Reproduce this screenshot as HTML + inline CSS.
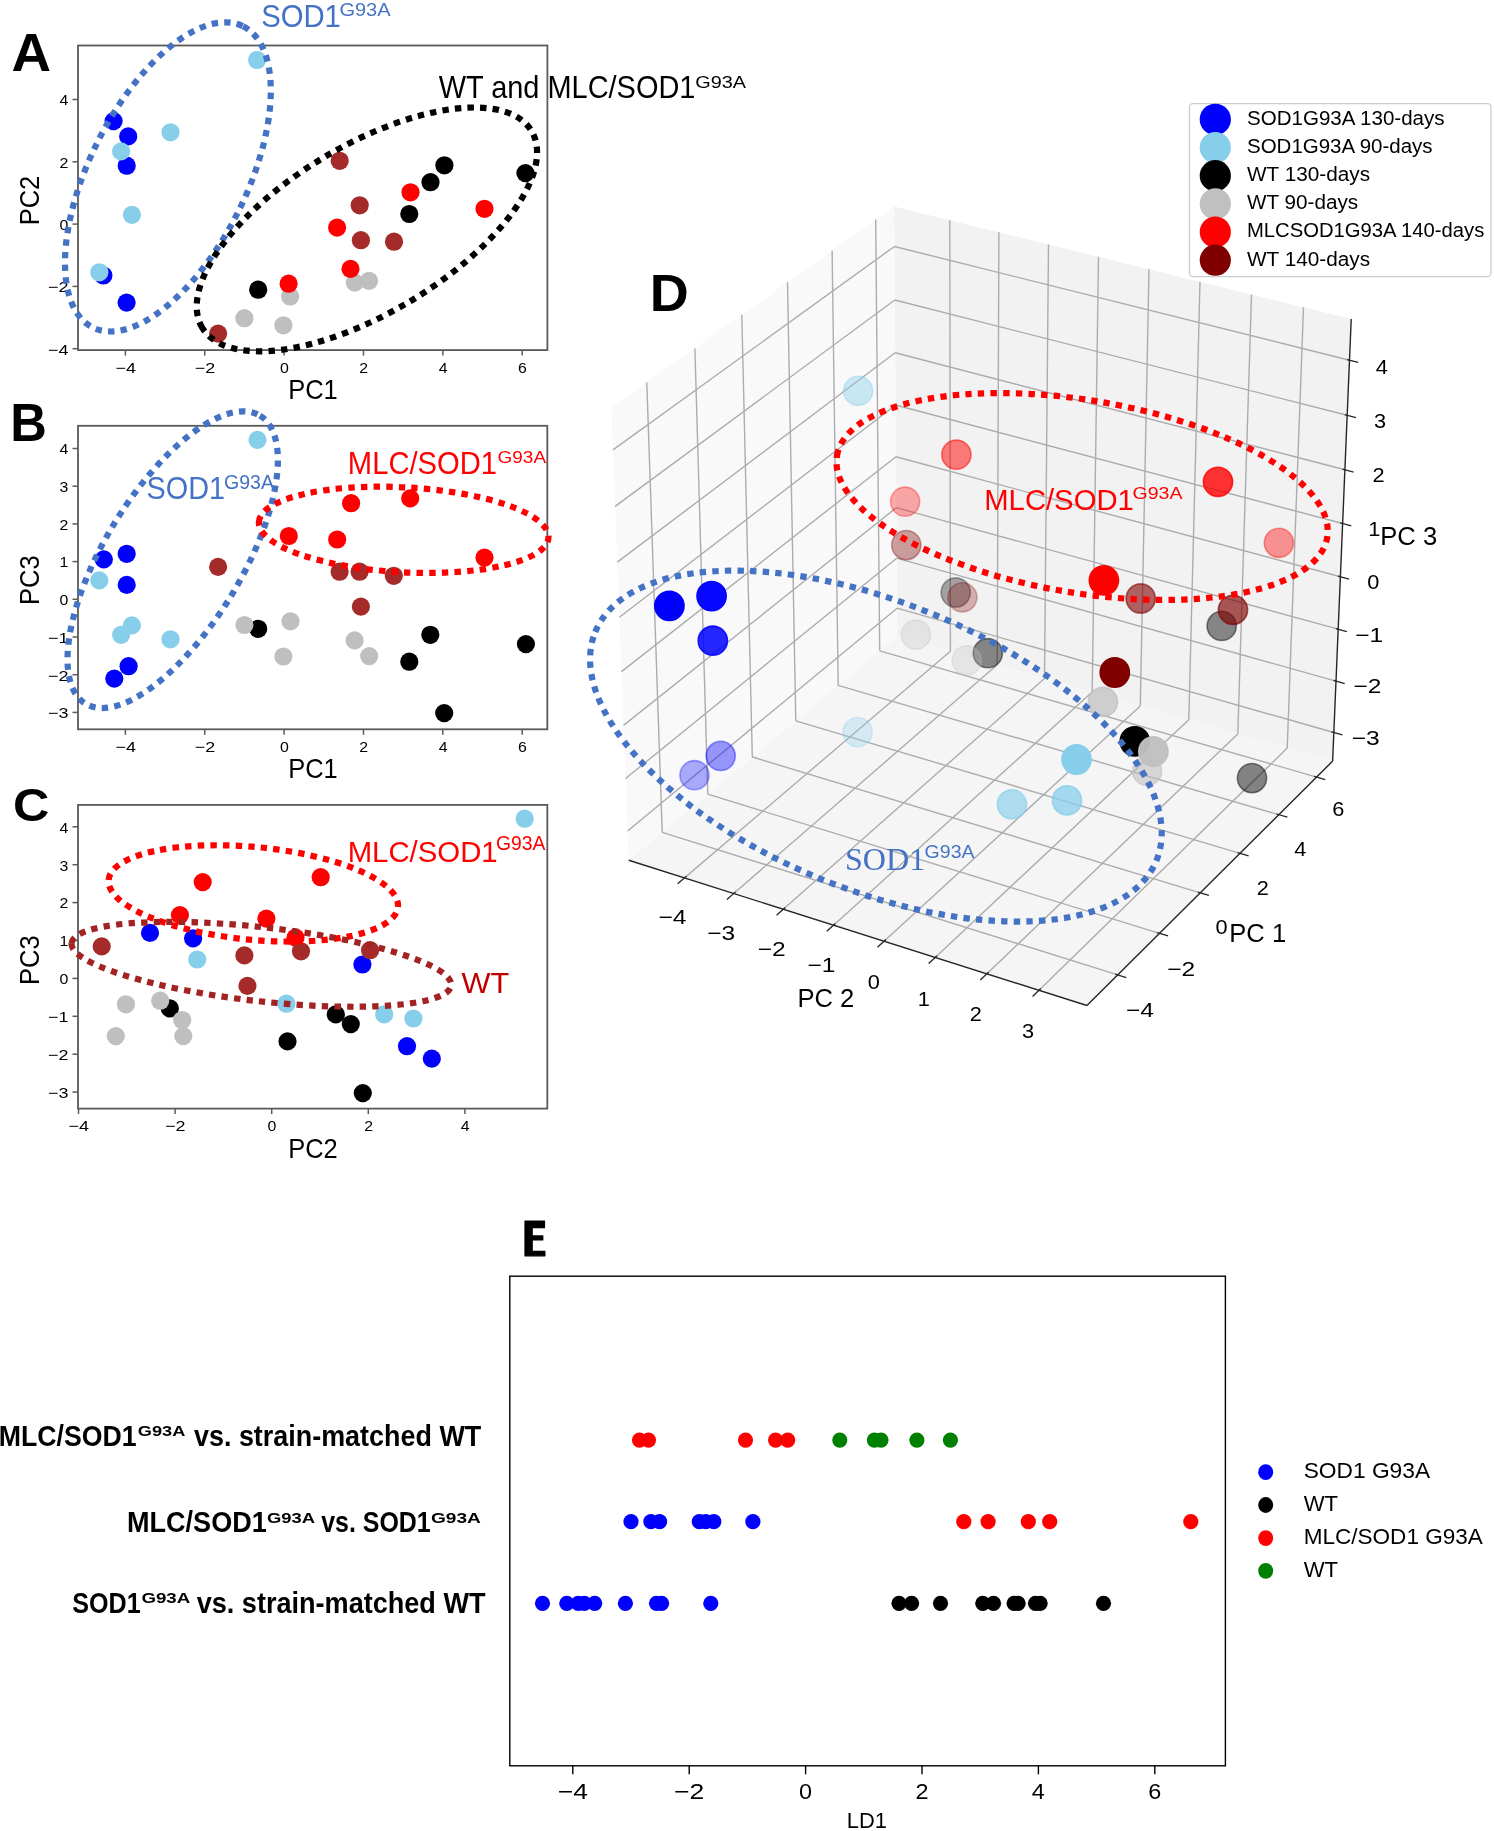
<!DOCTYPE html>
<html><head><meta charset="utf-8"><title>PCA figure</title>
<style>html,body{margin:0;padding:0;background:#fff;overflow:hidden}svg{display:block;will-change:transform;filter:blur(0.3px)}</style></head>
<body><svg width="1494" height="1831" viewBox="0 0 1494 1831">
<rect width="1494" height="1831" fill="#fff"/>
<line x1="125.38" y1="350.10" x2="125.38" y2="355.60" stroke="#5a5a5a" stroke-width="1.5" />
<text x="125.68" y="372.50" font-family="Liberation Sans, sans-serif" font-size="14.73" fill="#000" text-anchor="middle" textLength="20.49" lengthAdjust="spacingAndGlyphs" >−4</text>
<line x1="204.74" y1="350.10" x2="204.74" y2="355.60" stroke="#5a5a5a" stroke-width="1.5" />
<text x="205.04" y="372.50" font-family="Liberation Sans, sans-serif" font-size="14.73" fill="#000" text-anchor="middle" textLength="20.49" lengthAdjust="spacingAndGlyphs" >−2</text>
<line x1="284.10" y1="350.10" x2="284.10" y2="355.60" stroke="#5a5a5a" stroke-width="1.5" />
<text x="284.40" y="372.50" font-family="Liberation Sans, sans-serif" font-size="14.73" fill="#000" text-anchor="middle" textLength="8.84" lengthAdjust="spacingAndGlyphs" >0</text>
<line x1="363.46" y1="350.10" x2="363.46" y2="355.60" stroke="#5a5a5a" stroke-width="1.5" />
<text x="363.76" y="372.50" font-family="Liberation Sans, sans-serif" font-size="14.73" fill="#000" text-anchor="middle" textLength="8.84" lengthAdjust="spacingAndGlyphs" >2</text>
<line x1="442.82" y1="350.10" x2="442.82" y2="355.60" stroke="#5a5a5a" stroke-width="1.5" />
<text x="443.12" y="372.50" font-family="Liberation Sans, sans-serif" font-size="14.73" fill="#000" text-anchor="middle" textLength="8.84" lengthAdjust="spacingAndGlyphs" >4</text>
<line x1="522.18" y1="350.10" x2="522.18" y2="355.60" stroke="#5a5a5a" stroke-width="1.5" />
<text x="522.48" y="372.50" font-family="Liberation Sans, sans-serif" font-size="14.73" fill="#000" text-anchor="middle" textLength="8.84" lengthAdjust="spacingAndGlyphs" >6</text>
<line x1="72.50" y1="348.70" x2="78.00" y2="348.70" stroke="#5a5a5a" stroke-width="1.5" />
<text x="68.40" y="354.50" font-family="Liberation Sans, sans-serif" font-size="14.73" fill="#000" text-anchor="end" textLength="20.49" lengthAdjust="spacingAndGlyphs" >−4</text>
<line x1="72.50" y1="286.40" x2="78.00" y2="286.40" stroke="#5a5a5a" stroke-width="1.5" />
<text x="68.40" y="292.20" font-family="Liberation Sans, sans-serif" font-size="14.73" fill="#000" text-anchor="end" textLength="20.49" lengthAdjust="spacingAndGlyphs" >−2</text>
<line x1="72.50" y1="224.10" x2="78.00" y2="224.10" stroke="#5a5a5a" stroke-width="1.5" />
<text x="68.40" y="229.90" font-family="Liberation Sans, sans-serif" font-size="14.73" fill="#000" text-anchor="end" textLength="8.84" lengthAdjust="spacingAndGlyphs" >0</text>
<line x1="72.50" y1="161.80" x2="78.00" y2="161.80" stroke="#5a5a5a" stroke-width="1.5" />
<text x="68.40" y="167.60" font-family="Liberation Sans, sans-serif" font-size="14.73" fill="#000" text-anchor="end" textLength="8.84" lengthAdjust="spacingAndGlyphs" >2</text>
<line x1="72.50" y1="99.50" x2="78.00" y2="99.50" stroke="#5a5a5a" stroke-width="1.5" />
<text x="68.40" y="105.30" font-family="Liberation Sans, sans-serif" font-size="14.73" fill="#000" text-anchor="end" textLength="8.84" lengthAdjust="spacingAndGlyphs" >4</text>
<rect x="78" y="45.5" width="469.4" height="304.6" fill="none" stroke="#5a5a5a" stroke-width="1.8"/>
<text x="313.00" y="399.30" font-family="Liberation Sans, sans-serif" font-size="27.13" fill="#000" text-anchor="middle" textLength="49.60" lengthAdjust="spacingAndGlyphs" >PC1</text>
<text x="0.00" y="0.00" font-family="Liberation Sans, sans-serif" font-size="27.13" fill="#000" text-anchor="middle" textLength="49.60" lengthAdjust="spacingAndGlyphs" transform="translate(39.4 200.5) rotate(-90)">PC2</text>
<circle cx="113.6" cy="121.1" r="9.10" fill="#0000FF"/>
<circle cx="128.2" cy="136.4" r="9.10" fill="#0000FF"/>
<circle cx="126.7" cy="165.7" r="9.10" fill="#0000FF"/>
<circle cx="103.4" cy="275.5" r="9.10" fill="#0000FF"/>
<circle cx="126.6" cy="302.6" r="9.10" fill="#0000FF"/>
<circle cx="257.1" cy="60.0" r="9.10" fill="#87CEEB"/>
<circle cx="170.5" cy="132.3" r="9.10" fill="#87CEEB"/>
<circle cx="121.1" cy="151.4" r="9.10" fill="#87CEEB"/>
<circle cx="131.9" cy="214.8" r="9.10" fill="#87CEEB"/>
<circle cx="99.3" cy="272.3" r="9.10" fill="#87CEEB"/>
<circle cx="444.4" cy="165.3" r="9.10" fill="#000000"/>
<circle cx="525.4" cy="173.1" r="9.10" fill="#000000"/>
<circle cx="430.5" cy="182.2" r="9.10" fill="#000000"/>
<circle cx="409.3" cy="214.0" r="9.10" fill="#000000"/>
<circle cx="258.2" cy="289.7" r="9.10" fill="#000000"/>
<circle cx="354.8" cy="282.6" r="9.10" fill="#BFBFBF"/>
<circle cx="369.1" cy="280.9" r="9.10" fill="#BFBFBF"/>
<circle cx="290.1" cy="296.5" r="9.10" fill="#BFBFBF"/>
<circle cx="244.4" cy="318.2" r="9.10" fill="#BFBFBF"/>
<circle cx="283.4" cy="325.3" r="9.10" fill="#BFBFBF"/>
<circle cx="410.5" cy="192.3" r="9.10" fill="#FF0000"/>
<circle cx="484.5" cy="208.8" r="9.10" fill="#FF0000"/>
<circle cx="337.1" cy="227.6" r="9.10" fill="#FF0000"/>
<circle cx="350.5" cy="268.9" r="9.10" fill="#FF0000"/>
<circle cx="288.6" cy="283.7" r="9.10" fill="#FF0000"/>
<circle cx="339.7" cy="160.8" r="9.10" fill="#A52A2A"/>
<circle cx="359.7" cy="205.3" r="9.10" fill="#A52A2A"/>
<circle cx="360.9" cy="240.2" r="9.10" fill="#A52A2A"/>
<circle cx="394.0" cy="241.7" r="9.10" fill="#A52A2A"/>
<circle cx="218.1" cy="333.6" r="9.10" fill="#A52A2A"/>
<line x1="125.38" y1="729.30" x2="125.38" y2="734.80" stroke="#5a5a5a" stroke-width="1.5" />
<text x="125.68" y="751.70" font-family="Liberation Sans, sans-serif" font-size="14.73" fill="#000" text-anchor="middle" textLength="20.49" lengthAdjust="spacingAndGlyphs" >−4</text>
<line x1="204.74" y1="729.30" x2="204.74" y2="734.80" stroke="#5a5a5a" stroke-width="1.5" />
<text x="205.04" y="751.70" font-family="Liberation Sans, sans-serif" font-size="14.73" fill="#000" text-anchor="middle" textLength="20.49" lengthAdjust="spacingAndGlyphs" >−2</text>
<line x1="284.10" y1="729.30" x2="284.10" y2="734.80" stroke="#5a5a5a" stroke-width="1.5" />
<text x="284.40" y="751.70" font-family="Liberation Sans, sans-serif" font-size="14.73" fill="#000" text-anchor="middle" textLength="8.84" lengthAdjust="spacingAndGlyphs" >0</text>
<line x1="363.46" y1="729.30" x2="363.46" y2="734.80" stroke="#5a5a5a" stroke-width="1.5" />
<text x="363.76" y="751.70" font-family="Liberation Sans, sans-serif" font-size="14.73" fill="#000" text-anchor="middle" textLength="8.84" lengthAdjust="spacingAndGlyphs" >2</text>
<line x1="442.82" y1="729.30" x2="442.82" y2="734.80" stroke="#5a5a5a" stroke-width="1.5" />
<text x="443.12" y="751.70" font-family="Liberation Sans, sans-serif" font-size="14.73" fill="#000" text-anchor="middle" textLength="8.84" lengthAdjust="spacingAndGlyphs" >4</text>
<line x1="522.18" y1="729.30" x2="522.18" y2="734.80" stroke="#5a5a5a" stroke-width="1.5" />
<text x="522.48" y="751.70" font-family="Liberation Sans, sans-serif" font-size="14.73" fill="#000" text-anchor="middle" textLength="8.84" lengthAdjust="spacingAndGlyphs" >6</text>
<line x1="72.50" y1="712.40" x2="78.00" y2="712.40" stroke="#5a5a5a" stroke-width="1.5" />
<text x="68.40" y="718.20" font-family="Liberation Sans, sans-serif" font-size="14.73" fill="#000" text-anchor="end" textLength="20.49" lengthAdjust="spacingAndGlyphs" >−3</text>
<line x1="72.50" y1="674.70" x2="78.00" y2="674.70" stroke="#5a5a5a" stroke-width="1.5" />
<text x="68.40" y="680.50" font-family="Liberation Sans, sans-serif" font-size="14.73" fill="#000" text-anchor="end" textLength="20.49" lengthAdjust="spacingAndGlyphs" >−2</text>
<line x1="72.50" y1="637.00" x2="78.00" y2="637.00" stroke="#5a5a5a" stroke-width="1.5" />
<text x="68.40" y="642.80" font-family="Liberation Sans, sans-serif" font-size="14.73" fill="#000" text-anchor="end" textLength="20.49" lengthAdjust="spacingAndGlyphs" >−1</text>
<line x1="72.50" y1="599.30" x2="78.00" y2="599.30" stroke="#5a5a5a" stroke-width="1.5" />
<text x="68.40" y="605.10" font-family="Liberation Sans, sans-serif" font-size="14.73" fill="#000" text-anchor="end" textLength="8.84" lengthAdjust="spacingAndGlyphs" >0</text>
<line x1="72.50" y1="561.60" x2="78.00" y2="561.60" stroke="#5a5a5a" stroke-width="1.5" />
<text x="68.40" y="567.40" font-family="Liberation Sans, sans-serif" font-size="14.73" fill="#000" text-anchor="end" textLength="8.84" lengthAdjust="spacingAndGlyphs" >1</text>
<line x1="72.50" y1="523.90" x2="78.00" y2="523.90" stroke="#5a5a5a" stroke-width="1.5" />
<text x="68.40" y="529.70" font-family="Liberation Sans, sans-serif" font-size="14.73" fill="#000" text-anchor="end" textLength="8.84" lengthAdjust="spacingAndGlyphs" >2</text>
<line x1="72.50" y1="486.20" x2="78.00" y2="486.20" stroke="#5a5a5a" stroke-width="1.5" />
<text x="68.40" y="492.00" font-family="Liberation Sans, sans-serif" font-size="14.73" fill="#000" text-anchor="end" textLength="8.84" lengthAdjust="spacingAndGlyphs" >3</text>
<line x1="72.50" y1="448.50" x2="78.00" y2="448.50" stroke="#5a5a5a" stroke-width="1.5" />
<text x="68.40" y="454.30" font-family="Liberation Sans, sans-serif" font-size="14.73" fill="#000" text-anchor="end" textLength="8.84" lengthAdjust="spacingAndGlyphs" >4</text>
<rect x="78" y="425.8" width="469.29999999999995" height="303.49999999999994" fill="none" stroke="#5a5a5a" stroke-width="1.8"/>
<text x="312.95" y="778.00" font-family="Liberation Sans, sans-serif" font-size="27.13" fill="#000" text-anchor="middle" textLength="49.60" lengthAdjust="spacingAndGlyphs" >PC1</text>
<text x="0.00" y="0.00" font-family="Liberation Sans, sans-serif" font-size="27.13" fill="#000" text-anchor="middle" textLength="49.60" lengthAdjust="spacingAndGlyphs" transform="translate(39.4 580.2) rotate(-90)">PC3</text>
<circle cx="103.8" cy="559.4" r="9.10" fill="#0000FF"/>
<circle cx="126.7" cy="553.8" r="9.10" fill="#0000FF"/>
<circle cx="126.7" cy="584.9" r="9.10" fill="#0000FF"/>
<circle cx="128.6" cy="666.2" r="9.10" fill="#0000FF"/>
<circle cx="114.3" cy="678.6" r="9.10" fill="#0000FF"/>
<circle cx="257.5" cy="439.9" r="9.10" fill="#87CEEB"/>
<circle cx="99.3" cy="580.4" r="9.10" fill="#87CEEB"/>
<circle cx="131.9" cy="625.4" r="9.10" fill="#87CEEB"/>
<circle cx="121.1" cy="634.8" r="9.10" fill="#87CEEB"/>
<circle cx="170.5" cy="639.3" r="9.10" fill="#87CEEB"/>
<circle cx="258.2" cy="628.8" r="9.10" fill="#000000"/>
<circle cx="430.3" cy="634.8" r="9.10" fill="#000000"/>
<circle cx="409.3" cy="661.7" r="9.10" fill="#000000"/>
<circle cx="525.9" cy="644.1" r="9.10" fill="#000000"/>
<circle cx="444.2" cy="713.1" r="9.10" fill="#000000"/>
<circle cx="244.4" cy="625.0" r="9.10" fill="#BFBFBF"/>
<circle cx="290.5" cy="621.3" r="9.10" fill="#BFBFBF"/>
<circle cx="283.4" cy="656.5" r="9.10" fill="#BFBFBF"/>
<circle cx="354.6" cy="640.4" r="9.10" fill="#BFBFBF"/>
<circle cx="369.2" cy="656.1" r="9.10" fill="#BFBFBF"/>
<circle cx="288.8" cy="536.0" r="9.10" fill="#FF0000"/>
<circle cx="337.2" cy="539.5" r="9.10" fill="#FF0000"/>
<circle cx="351.1" cy="503.2" r="9.10" fill="#FF0000"/>
<circle cx="410.2" cy="498.4" r="9.10" fill="#FF0000"/>
<circle cx="484.5" cy="557.6" r="9.10" fill="#FF0000"/>
<circle cx="218.1" cy="566.9" r="9.10" fill="#A52A2A"/>
<circle cx="339.6" cy="571.7" r="9.10" fill="#A52A2A"/>
<circle cx="359.6" cy="571.7" r="9.10" fill="#A52A2A"/>
<circle cx="393.8" cy="575.8" r="9.10" fill="#A52A2A"/>
<circle cx="360.9" cy="606.6" r="9.10" fill="#A52A2A"/>
<line x1="78.50" y1="1108.60" x2="78.50" y2="1114.10" stroke="#5a5a5a" stroke-width="1.5" />
<text x="78.80" y="1131.00" font-family="Liberation Sans, sans-serif" font-size="14.73" fill="#000" text-anchor="middle" textLength="20.49" lengthAdjust="spacingAndGlyphs" >−4</text>
<line x1="175.10" y1="1108.60" x2="175.10" y2="1114.10" stroke="#5a5a5a" stroke-width="1.5" />
<text x="175.40" y="1131.00" font-family="Liberation Sans, sans-serif" font-size="14.73" fill="#000" text-anchor="middle" textLength="20.49" lengthAdjust="spacingAndGlyphs" >−2</text>
<line x1="271.70" y1="1108.60" x2="271.70" y2="1114.10" stroke="#5a5a5a" stroke-width="1.5" />
<text x="272.00" y="1131.00" font-family="Liberation Sans, sans-serif" font-size="14.73" fill="#000" text-anchor="middle" textLength="8.84" lengthAdjust="spacingAndGlyphs" >0</text>
<line x1="368.30" y1="1108.60" x2="368.30" y2="1114.10" stroke="#5a5a5a" stroke-width="1.5" />
<text x="368.60" y="1131.00" font-family="Liberation Sans, sans-serif" font-size="14.73" fill="#000" text-anchor="middle" textLength="8.84" lengthAdjust="spacingAndGlyphs" >2</text>
<line x1="464.90" y1="1108.60" x2="464.90" y2="1114.10" stroke="#5a5a5a" stroke-width="1.5" />
<text x="465.20" y="1131.00" font-family="Liberation Sans, sans-serif" font-size="14.73" fill="#000" text-anchor="middle" textLength="8.84" lengthAdjust="spacingAndGlyphs" >4</text>
<line x1="72.50" y1="1092.10" x2="78.00" y2="1092.10" stroke="#5a5a5a" stroke-width="1.5" />
<text x="68.40" y="1097.90" font-family="Liberation Sans, sans-serif" font-size="14.73" fill="#000" text-anchor="end" textLength="20.49" lengthAdjust="spacingAndGlyphs" >−3</text>
<line x1="72.50" y1="1054.20" x2="78.00" y2="1054.20" stroke="#5a5a5a" stroke-width="1.5" />
<text x="68.40" y="1060.00" font-family="Liberation Sans, sans-serif" font-size="14.73" fill="#000" text-anchor="end" textLength="20.49" lengthAdjust="spacingAndGlyphs" >−2</text>
<line x1="72.50" y1="1016.30" x2="78.00" y2="1016.30" stroke="#5a5a5a" stroke-width="1.5" />
<text x="68.40" y="1022.10" font-family="Liberation Sans, sans-serif" font-size="14.73" fill="#000" text-anchor="end" textLength="20.49" lengthAdjust="spacingAndGlyphs" >−1</text>
<line x1="72.50" y1="978.40" x2="78.00" y2="978.40" stroke="#5a5a5a" stroke-width="1.5" />
<text x="68.40" y="984.20" font-family="Liberation Sans, sans-serif" font-size="14.73" fill="#000" text-anchor="end" textLength="8.84" lengthAdjust="spacingAndGlyphs" >0</text>
<line x1="72.50" y1="940.50" x2="78.00" y2="940.50" stroke="#5a5a5a" stroke-width="1.5" />
<text x="68.40" y="946.30" font-family="Liberation Sans, sans-serif" font-size="14.73" fill="#000" text-anchor="end" textLength="8.84" lengthAdjust="spacingAndGlyphs" >1</text>
<line x1="72.50" y1="902.60" x2="78.00" y2="902.60" stroke="#5a5a5a" stroke-width="1.5" />
<text x="68.40" y="908.40" font-family="Liberation Sans, sans-serif" font-size="14.73" fill="#000" text-anchor="end" textLength="8.84" lengthAdjust="spacingAndGlyphs" >2</text>
<line x1="72.50" y1="864.70" x2="78.00" y2="864.70" stroke="#5a5a5a" stroke-width="1.5" />
<text x="68.40" y="870.50" font-family="Liberation Sans, sans-serif" font-size="14.73" fill="#000" text-anchor="end" textLength="8.84" lengthAdjust="spacingAndGlyphs" >3</text>
<line x1="72.50" y1="826.80" x2="78.00" y2="826.80" stroke="#5a5a5a" stroke-width="1.5" />
<text x="68.40" y="832.60" font-family="Liberation Sans, sans-serif" font-size="14.73" fill="#000" text-anchor="end" textLength="8.84" lengthAdjust="spacingAndGlyphs" >4</text>
<rect x="78" y="804.9" width="469.29999999999995" height="303.69999999999993" fill="none" stroke="#5a5a5a" stroke-width="1.8"/>
<text x="312.95" y="1158.00" font-family="Liberation Sans, sans-serif" font-size="27.13" fill="#000" text-anchor="middle" textLength="49.60" lengthAdjust="spacingAndGlyphs" >PC2</text>
<text x="0.00" y="0.00" font-family="Liberation Sans, sans-serif" font-size="27.13" fill="#000" text-anchor="middle" textLength="49.60" lengthAdjust="spacingAndGlyphs" transform="translate(39.4 960.2) rotate(-90)">PC3</text>
<circle cx="150.0" cy="932.9" r="9.10" fill="#0000FF"/>
<circle cx="193.1" cy="938.4" r="9.10" fill="#0000FF"/>
<circle cx="362.4" cy="964.5" r="9.10" fill="#0000FF"/>
<circle cx="407.0" cy="1046.2" r="9.10" fill="#0000FF"/>
<circle cx="431.8" cy="1058.6" r="9.10" fill="#0000FF"/>
<circle cx="524.7" cy="818.7" r="9.10" fill="#87CEEB"/>
<circle cx="197.2" cy="959.5" r="9.10" fill="#87CEEB"/>
<circle cx="286.4" cy="1003.7" r="9.10" fill="#87CEEB"/>
<circle cx="384.2" cy="1014.4" r="9.10" fill="#87CEEB"/>
<circle cx="413.4" cy="1018.5" r="9.10" fill="#87CEEB"/>
<circle cx="169.8" cy="1008.4" r="9.10" fill="#000000"/>
<circle cx="287.5" cy="1041.4" r="9.10" fill="#000000"/>
<circle cx="335.8" cy="1014.4" r="9.10" fill="#000000"/>
<circle cx="350.8" cy="1024.1" r="9.10" fill="#000000"/>
<circle cx="362.8" cy="1093.1" r="9.10" fill="#000000"/>
<circle cx="125.9" cy="1004.3" r="9.10" fill="#BFBFBF"/>
<circle cx="160.2" cy="1000.7" r="9.10" fill="#BFBFBF"/>
<circle cx="182.2" cy="1020.0" r="9.10" fill="#BFBFBF"/>
<circle cx="115.8" cy="1036.1" r="9.10" fill="#BFBFBF"/>
<circle cx="183.3" cy="1036.1" r="9.10" fill="#BFBFBF"/>
<circle cx="202.7" cy="882.1" r="9.10" fill="#FF0000"/>
<circle cx="320.7" cy="877.2" r="9.10" fill="#FF0000"/>
<circle cx="179.9" cy="915.1" r="9.10" fill="#FF0000"/>
<circle cx="266.4" cy="918.6" r="9.10" fill="#FF0000"/>
<circle cx="295.5" cy="937.6" r="9.10" fill="#FF0000"/>
<circle cx="101.7" cy="946.4" r="9.10" fill="#A52A2A"/>
<circle cx="244.4" cy="955.4" r="9.10" fill="#A52A2A"/>
<circle cx="301.0" cy="951.3" r="9.10" fill="#A52A2A"/>
<circle cx="370.1" cy="950.2" r="9.10" fill="#A52A2A"/>
<circle cx="247.4" cy="985.9" r="9.10" fill="#A52A2A"/>
<ellipse cx="167.9" cy="176.9" rx="168.3" ry="78.5" transform="rotate(-63.45 167.9 176.9)" fill="none" stroke="#4472C4" stroke-width="6.2" stroke-dasharray="6.4 6.2"/>
<ellipse cx="366.9" cy="229.4" rx="191.8" ry="83.9" transform="rotate(149.15 366.9 229.4)" fill="none" stroke="#000000" stroke-width="6.2" stroke-dasharray="6.4 6.2"/>
<ellipse cx="172.7" cy="559.7" rx="168.4" ry="68.7" transform="rotate(-58.80 172.7 559.7)" fill="none" stroke="#4472C4" stroke-width="6.2" stroke-dasharray="6.4 6.2"/>
<ellipse cx="403.7" cy="529.8" rx="145.0" ry="42.5" transform="rotate(-176.94 403.7 529.8)" fill="none" stroke="#FF0000" stroke-width="6.2" stroke-dasharray="6.4 6.2"/>
<ellipse cx="253.3" cy="893.4" rx="145.3" ry="46.4" transform="rotate(-174.63 253.3 893.4)" fill="none" stroke="#FF0000" stroke-width="6.2" stroke-dasharray="6.4 6.2"/>
<ellipse cx="261.4" cy="964.3" rx="191.0" ry="37.0" transform="rotate(-173.63 261.4 964.3)" fill="none" stroke="#A32222" stroke-width="6.2" stroke-dasharray="6.4 6.2"/>
<text x="11.63" y="70.80" font-family="Liberation Sans, sans-serif" font-size="53.92" font-weight="bold" fill="#000" textLength="39.56" lengthAdjust="spacingAndGlyphs" >A</text>
<text x="10.31" y="441.40" font-family="Liberation Sans, sans-serif" font-size="52.91" font-weight="bold" fill="#000" textLength="36.58" lengthAdjust="spacingAndGlyphs" >B</text>
<text x="12.98" y="820.60" font-family="Liberation Sans, sans-serif" font-size="47.07" font-weight="bold" fill="#000" textLength="36.39" lengthAdjust="spacingAndGlyphs" >C</text>
<text x="261.18" y="26.80" font-family="Liberation Sans, sans-serif" font-size="32.12" font-weight="normal" fill="#4472C4" textLength="79.73" lengthAdjust="spacingAndGlyphs" >SOD1</text>
<text x="339.40" y="15.90" font-family="Liberation Sans, sans-serif" font-size="17.73" font-weight="normal" fill="#4472C4" textLength="51.25" lengthAdjust="spacingAndGlyphs" >G93A</text>
<text x="438.66" y="98.00" font-family="Liberation Sans, sans-serif" font-size="31.10" font-weight="normal" fill="#000" textLength="256.74" lengthAdjust="spacingAndGlyphs" >WT and MLC/SOD1</text>
<text x="695.21" y="87.60" font-family="Liberation Sans, sans-serif" font-size="15.99" font-weight="normal" fill="#000" textLength="50.74" lengthAdjust="spacingAndGlyphs" >G93A</text>
<text x="146.50" y="499.00" font-family="Liberation Sans, sans-serif" font-size="31.40" font-weight="normal" fill="#4472C4" textLength="78.49" lengthAdjust="spacingAndGlyphs" >SOD1</text>
<text x="224.02" y="489.00" font-family="Liberation Sans, sans-serif" font-size="20.20" font-weight="normal" fill="#4472C4" textLength="49.92" lengthAdjust="spacingAndGlyphs" >G93A</text>
<text x="347.87" y="474.00" font-family="Liberation Sans, sans-serif" font-size="30.52" font-weight="normal" fill="#FF0000" textLength="149.12" lengthAdjust="spacingAndGlyphs" >MLC/SOD1</text>
<text x="497.55" y="463.00" font-family="Liberation Sans, sans-serif" font-size="16.72" font-weight="normal" fill="#FF0000" textLength="48.49" lengthAdjust="spacingAndGlyphs" >G93A</text>
<text x="347.65" y="861.60" font-family="Liberation Sans, sans-serif" font-size="29.07" font-weight="normal" fill="#FF0000" textLength="150.04" lengthAdjust="spacingAndGlyphs" >MLC/SOD1</text>
<text x="496.03" y="850.00" font-family="Liberation Sans, sans-serif" font-size="20.06" font-weight="normal" fill="#FF0000" textLength="49.51" lengthAdjust="spacingAndGlyphs" >G93A</text>
<text x="461.45" y="993.20" font-family="Liberation Sans, sans-serif" font-size="30.23" font-weight="normal" fill="#C00000" textLength="47.76" lengthAdjust="spacingAndGlyphs" >WT</text>
<polygon points="628.7,860.3 897.3,636.1 894.1,206.5 611.4,407.6" fill="#F9F9F9" />
<polygon points="897.3,636.1 1332.6,761.1 1351.2,319.0 894.1,206.5" fill="#F2F2F2" />
<polygon points="628.7,860.3 897.3,636.1 1332.6,761.1 1086.9,1005.5" fill="#F5F5F5" />
<path d="M662.2 832.3L646.8 382.4 M662.2 832.3L1117.7 974.9 M707.8 794.2L694.9 348.2 M707.8 794.2L1159.5 933.3 M752.3 757.0L741.8 314.8 M752.3 757.0L1200.2 892.8 M795.8 720.8L787.5 282.3 M795.8 720.8L1240.0 853.3 M838.2 685.4L832.1 250.6 M838.2 685.4L1278.8 814.7 M879.7 650.8L875.7 219.6 M879.7 650.8L1316.6 777.1 M950.4 651.3L949.8 220.2 M684.5 877.9L950.4 651.3 M997.2 664.8L998.9 232.3 M733.7 893.5L997.2 664.8 M1044.5 678.4L1048.5 244.5 M783.3 909.3L1044.5 678.4 M1092.2 692.0L1098.5 256.8 M833.5 925.2L1092.2 692.0 M1140.3 705.9L1149.0 269.2 M884.1 941.2L1140.3 705.9 M1188.8 719.8L1200.0 281.8 M935.2 957.4L1188.8 719.8 M1237.8 733.9L1251.5 294.4 M986.9 973.8L1237.8 733.9 M1287.2 748.1L1303.5 307.2 M1039.0 990.3L1287.2 748.1 M627.6 831.0L897.1 608.2 M897.1 608.2L1333.8 732.5 M625.6 778.5L896.7 558.2 M896.7 558.2L1336.0 681.1 M623.5 725.4L896.3 507.7 M896.3 507.7L1338.2 629.2 M621.5 671.6L896.0 456.7 M896.0 456.7L1340.4 576.7 M619.4 617.2L895.6 405.0 M895.6 405.0L1342.6 523.5 M617.3 562.1L895.2 352.8 M895.2 352.8L1344.9 469.7 M615.1 506.4L894.8 300.0 M894.8 300.0L1347.2 415.3 M613.0 449.9L894.4 246.5 M894.4 246.5L1349.5 360.2" stroke="#acacac" stroke-width="1.4" fill="none"/>
<line x1="1086.93" y1="1005.49" x2="1332.64" y2="761.12" stroke="#262626" stroke-width="1.4" />
<line x1="628.71" y1="860.25" x2="1086.93" y2="1005.49" stroke="#262626" stroke-width="1.4" />
<line x1="1332.64" y1="761.12" x2="1351.23" y2="318.97" stroke="#262626" stroke-width="1.4" />
<line x1="1115.28" y1="974.17" x2="1126.25" y2="977.61" stroke="#262626" stroke-width="1.3" />
<line x1="1157.09" y1="932.60" x2="1168.08" y2="935.98" stroke="#262626" stroke-width="1.3" />
<line x1="1197.85" y1="892.07" x2="1208.85" y2="895.40" stroke="#262626" stroke-width="1.3" />
<line x1="1237.59" y1="852.55" x2="1248.61" y2="855.84" stroke="#262626" stroke-width="1.3" />
<line x1="1276.35" y1="814.00" x2="1287.39" y2="817.24" stroke="#262626" stroke-width="1.3" />
<line x1="1314.17" y1="776.39" x2="1325.22" y2="779.59" stroke="#262626" stroke-width="1.3" />
<line x1="686.40" y1="876.31" x2="677.64" y2="883.77" stroke="#262626" stroke-width="1.3" />
<line x1="735.56" y1="891.88" x2="726.88" y2="899.42" stroke="#262626" stroke-width="1.3" />
<line x1="785.20" y1="907.61" x2="776.59" y2="915.22" stroke="#262626" stroke-width="1.3" />
<line x1="835.33" y1="923.48" x2="826.78" y2="931.18" stroke="#262626" stroke-width="1.3" />
<line x1="885.94" y1="939.51" x2="877.47" y2="947.29" stroke="#262626" stroke-width="1.3" />
<line x1="937.05" y1="955.70" x2="928.66" y2="963.56" stroke="#262626" stroke-width="1.3" />
<line x1="988.67" y1="972.05" x2="980.36" y2="979.99" stroke="#262626" stroke-width="1.3" />
<line x1="1040.80" y1="988.56" x2="1032.57" y2="996.59" stroke="#262626" stroke-width="1.3" />
<line x1="1331.44" y1="731.77" x2="1342.50" y2="734.91" stroke="#262626" stroke-width="1.3" />
<line x1="1333.59" y1="680.46" x2="1344.67" y2="683.56" stroke="#262626" stroke-width="1.3" />
<line x1="1335.77" y1="628.55" x2="1346.86" y2="631.60" stroke="#262626" stroke-width="1.3" />
<line x1="1337.98" y1="576.03" x2="1349.08" y2="579.03" stroke="#262626" stroke-width="1.3" />
<line x1="1340.21" y1="522.89" x2="1351.33" y2="525.84" stroke="#262626" stroke-width="1.3" />
<line x1="1342.47" y1="469.12" x2="1353.60" y2="472.01" stroke="#262626" stroke-width="1.3" />
<line x1="1344.76" y1="414.70" x2="1355.90" y2="417.55" stroke="#262626" stroke-width="1.3" />
<line x1="1347.07" y1="359.63" x2="1358.23" y2="362.42" stroke="#262626" stroke-width="1.3" />
<text x="1140.00" y="1017.20" font-family="Liberation Sans, sans-serif" font-size="20.13" fill="#000" text-anchor="middle" textLength="28.01" lengthAdjust="spacingAndGlyphs" >−4</text>
<text x="1181.20" y="976.00" font-family="Liberation Sans, sans-serif" font-size="20.13" fill="#000" text-anchor="middle" textLength="28.01" lengthAdjust="spacingAndGlyphs" >−2</text>
<text x="1221.50" y="933.80" font-family="Liberation Sans, sans-serif" font-size="20.13" fill="#000" text-anchor="middle" textLength="12.09" lengthAdjust="spacingAndGlyphs" >0</text>
<text x="1262.70" y="895.40" font-family="Liberation Sans, sans-serif" font-size="20.13" fill="#000" text-anchor="middle" textLength="12.09" lengthAdjust="spacingAndGlyphs" >2</text>
<text x="1300.20" y="856.00" font-family="Liberation Sans, sans-serif" font-size="20.13" fill="#000" text-anchor="middle" textLength="12.09" lengthAdjust="spacingAndGlyphs" >4</text>
<text x="1338.20" y="816.10" font-family="Liberation Sans, sans-serif" font-size="20.13" fill="#000" text-anchor="middle" textLength="12.09" lengthAdjust="spacingAndGlyphs" >6</text>
<text x="672.50" y="923.80" font-family="Liberation Sans, sans-serif" font-size="20.13" fill="#000" text-anchor="middle" textLength="28.01" lengthAdjust="spacingAndGlyphs" >−4</text>
<text x="721.20" y="940.10" font-family="Liberation Sans, sans-serif" font-size="20.13" fill="#000" text-anchor="middle" textLength="28.01" lengthAdjust="spacingAndGlyphs" >−3</text>
<text x="771.80" y="955.70" font-family="Liberation Sans, sans-serif" font-size="20.13" fill="#000" text-anchor="middle" textLength="28.01" lengthAdjust="spacingAndGlyphs" >−2</text>
<text x="821.50" y="971.60" font-family="Liberation Sans, sans-serif" font-size="20.13" fill="#000" text-anchor="middle" textLength="28.01" lengthAdjust="spacingAndGlyphs" >−1</text>
<text x="873.90" y="988.50" font-family="Liberation Sans, sans-serif" font-size="20.13" fill="#000" text-anchor="middle" textLength="12.09" lengthAdjust="spacingAndGlyphs" >0</text>
<text x="923.70" y="1005.50" font-family="Liberation Sans, sans-serif" font-size="20.13" fill="#000" text-anchor="middle" textLength="12.09" lengthAdjust="spacingAndGlyphs" >1</text>
<text x="975.90" y="1021.10" font-family="Liberation Sans, sans-serif" font-size="20.13" fill="#000" text-anchor="middle" textLength="12.09" lengthAdjust="spacingAndGlyphs" >2</text>
<text x="1028.10" y="1037.80" font-family="Liberation Sans, sans-serif" font-size="20.13" fill="#000" text-anchor="middle" textLength="12.09" lengthAdjust="spacingAndGlyphs" >3</text>
<text x="1381.90" y="374.00" font-family="Liberation Sans, sans-serif" font-size="20.13" fill="#000" text-anchor="middle" textLength="12.09" lengthAdjust="spacingAndGlyphs" >4</text>
<text x="1380.10" y="427.90" font-family="Liberation Sans, sans-serif" font-size="20.13" fill="#000" text-anchor="middle" textLength="12.09" lengthAdjust="spacingAndGlyphs" >3</text>
<text x="1378.50" y="482.20" font-family="Liberation Sans, sans-serif" font-size="20.13" fill="#000" text-anchor="middle" textLength="12.09" lengthAdjust="spacingAndGlyphs" >2</text>
<text x="1374.30" y="536.10" font-family="Liberation Sans, sans-serif" font-size="20.13" fill="#000" text-anchor="middle" textLength="12.09" lengthAdjust="spacingAndGlyphs" >1</text>
<text x="1373.20" y="588.80" font-family="Liberation Sans, sans-serif" font-size="20.13" fill="#000" text-anchor="middle" textLength="12.09" lengthAdjust="spacingAndGlyphs" >0</text>
<text x="1369.30" y="641.60" font-family="Liberation Sans, sans-serif" font-size="20.13" fill="#000" text-anchor="middle" textLength="28.01" lengthAdjust="spacingAndGlyphs" >−1</text>
<text x="1367.40" y="693.10" font-family="Liberation Sans, sans-serif" font-size="20.13" fill="#000" text-anchor="middle" textLength="28.01" lengthAdjust="spacingAndGlyphs" >−2</text>
<text x="1365.80" y="744.70" font-family="Liberation Sans, sans-serif" font-size="20.13" fill="#000" text-anchor="middle" textLength="28.01" lengthAdjust="spacingAndGlyphs" >−3</text>
<text x="1229.30" y="941.80" font-family="Liberation Sans, sans-serif" font-size="26.70" fill="#000" text-anchor="start" textLength="56.84" lengthAdjust="spacingAndGlyphs" >PC 1</text>
<text x="797.40" y="1006.80" font-family="Liberation Sans, sans-serif" font-size="26.70" fill="#000" text-anchor="start" textLength="56.84" lengthAdjust="spacingAndGlyphs" >PC 2</text>
<text x="1380.30" y="544.70" font-family="Liberation Sans, sans-serif" font-size="26.70" fill="#000" text-anchor="start" textLength="56.84" lengthAdjust="spacingAndGlyphs" >PC 3</text>
<circle cx="694.5" cy="775.2" r="14.60" fill="#0000FF" fill-opacity="0.320" stroke="#0000FF" stroke-width="1.6" stroke-opacity="0.320"/>
<circle cx="720.7" cy="755.9" r="14.60" fill="#0000FF" fill-opacity="0.400" stroke="#0000FF" stroke-width="1.6" stroke-opacity="0.400"/>
<circle cx="712.8" cy="640.7" r="14.60" fill="#0000FF" fill-opacity="0.850" stroke="#0000FF" stroke-width="1.6" stroke-opacity="0.850"/>
<circle cx="711.6" cy="596.1" r="14.60" fill="#0000FF" fill-opacity="0.970" stroke="#0000FF" stroke-width="1.6" stroke-opacity="0.970"/>
<circle cx="669.4" cy="605.8" r="14.60" fill="#0000FF" stroke="#0000FF" stroke-width="1.6"/>
<circle cx="857.6" cy="732.1" r="14.60" fill="#87CEEB" fill-opacity="0.300" stroke="#87CEEB" stroke-width="1.6" stroke-opacity="0.300"/>
<circle cx="858.1" cy="390.8" r="14.60" fill="#87CEEB" fill-opacity="0.420" stroke="#87CEEB" stroke-width="1.6" stroke-opacity="0.420"/>
<circle cx="1011.9" cy="804.3" r="14.60" fill="#87CEEB" fill-opacity="0.650" stroke="#87CEEB" stroke-width="1.6" stroke-opacity="0.650"/>
<circle cx="1067.0" cy="800.4" r="14.60" fill="#87CEEB" fill-opacity="0.750" stroke="#87CEEB" stroke-width="1.6" stroke-opacity="0.750"/>
<circle cx="1076.5" cy="759.5" r="14.60" fill="#87CEEB" stroke="#87CEEB" stroke-width="1.6"/>
<circle cx="955.7" cy="592.5" r="14.60" fill="#000000" fill-opacity="0.330" stroke="#000000" stroke-width="1.6" stroke-opacity="0.330"/>
<circle cx="987.8" cy="653.2" r="14.60" fill="#000000" fill-opacity="0.450" stroke="#000000" stroke-width="1.6" stroke-opacity="0.450"/>
<circle cx="1221.7" cy="625.9" r="14.60" fill="#000000" fill-opacity="0.450" stroke="#000000" stroke-width="1.6" stroke-opacity="0.450"/>
<circle cx="1252.0" cy="778.1" r="14.60" fill="#000000" fill-opacity="0.470" stroke="#000000" stroke-width="1.6" stroke-opacity="0.470"/>
<circle cx="1134.8" cy="741.3" r="14.60" fill="#000000" stroke="#000000" stroke-width="1.6"/>
<circle cx="915.9" cy="634.7" r="14.60" fill="#C0C0C0" fill-opacity="0.300" stroke="#C0C0C0" stroke-width="1.6" stroke-opacity="0.300"/>
<circle cx="966.8" cy="660.5" r="14.60" fill="#C0C0C0" fill-opacity="0.300" stroke="#C0C0C0" stroke-width="1.6" stroke-opacity="0.300"/>
<circle cx="1147.1" cy="770.9" r="14.60" fill="#C0C0C0" fill-opacity="0.600" stroke="#C0C0C0" stroke-width="1.6" stroke-opacity="0.600"/>
<circle cx="1102.9" cy="701.9" r="14.60" fill="#C0C0C0" fill-opacity="0.750" stroke="#C0C0C0" stroke-width="1.6" stroke-opacity="0.750"/>
<circle cx="1153.4" cy="751.5" r="14.60" fill="#C0C0C0" fill-opacity="0.970" stroke="#C0C0C0" stroke-width="1.6" stroke-opacity="0.970"/>
<circle cx="905.1" cy="501.7" r="14.60" fill="#FF0000" fill-opacity="0.320" stroke="#FF0000" stroke-width="1.6" stroke-opacity="0.320"/>
<circle cx="1278.9" cy="542.8" r="14.60" fill="#FF0000" fill-opacity="0.400" stroke="#FF0000" stroke-width="1.6" stroke-opacity="0.400"/>
<circle cx="956.4" cy="454.7" r="14.60" fill="#FF0000" fill-opacity="0.500" stroke="#FF0000" stroke-width="1.6" stroke-opacity="0.500"/>
<circle cx="1218.0" cy="481.8" r="14.60" fill="#FF0000" fill-opacity="0.800" stroke="#FF0000" stroke-width="1.6" stroke-opacity="0.800"/>
<circle cx="1103.9" cy="580.3" r="14.60" fill="#FF0000" stroke="#FF0000" stroke-width="1.6"/>
<circle cx="962.4" cy="597.3" r="14.60" fill="#800000" fill-opacity="0.280" stroke="#800000" stroke-width="1.6" stroke-opacity="0.280"/>
<circle cx="906.3" cy="545.1" r="14.60" fill="#800000" fill-opacity="0.360" stroke="#800000" stroke-width="1.6" stroke-opacity="0.360"/>
<circle cx="1140.7" cy="598.5" r="14.60" fill="#800000" fill-opacity="0.600" stroke="#800000" stroke-width="1.6" stroke-opacity="0.600"/>
<circle cx="1233.0" cy="609.8" r="14.60" fill="#800000" fill-opacity="0.650" stroke="#800000" stroke-width="1.6" stroke-opacity="0.650"/>
<circle cx="1114.8" cy="672.5" r="14.60" fill="#800000" stroke="#800000" stroke-width="1.6"/>
<rect x="1189.5" y="103.7" width="301.5" height="172.9" rx="3.5" ry="3.5" fill="#fff" fill-opacity="0.8" stroke="#cccccc" stroke-width="1.3"/>
<circle cx="1215.3" cy="119.4" r="15.60" fill="#0000FF"/>
<text x="1247.00" y="124.70" font-family="Liberation Sans, sans-serif" font-size="19.92" fill="#000" text-anchor="start" textLength="197.54" lengthAdjust="spacingAndGlyphs" >SOD1G93A 130-days</text>
<circle cx="1215.3" cy="147.6" r="15.60" fill="#87CEEB"/>
<text x="1247.00" y="152.86" font-family="Liberation Sans, sans-serif" font-size="19.92" fill="#000" text-anchor="start" textLength="185.58" lengthAdjust="spacingAndGlyphs" >SOD1G93A 90-days</text>
<circle cx="1215.3" cy="175.7" r="15.60" fill="#000000"/>
<text x="1247.00" y="181.02" font-family="Liberation Sans, sans-serif" font-size="19.92" fill="#000" text-anchor="start" textLength="123.09" lengthAdjust="spacingAndGlyphs" >WT 130-days</text>
<circle cx="1215.3" cy="203.9" r="15.60" fill="#C0C0C0"/>
<text x="1247.00" y="209.18" font-family="Liberation Sans, sans-serif" font-size="19.92" fill="#000" text-anchor="start" textLength="111.13" lengthAdjust="spacingAndGlyphs" >WT 90-days</text>
<circle cx="1215.3" cy="232.0" r="15.60" fill="#FF0000"/>
<text x="1247.00" y="237.34" font-family="Liberation Sans, sans-serif" font-size="19.92" fill="#000" text-anchor="start" textLength="237.36" lengthAdjust="spacingAndGlyphs" >MLCSOD1G93A 140-days</text>
<circle cx="1215.3" cy="260.2" r="15.60" fill="#800000"/>
<text x="1247.00" y="265.50" font-family="Liberation Sans, sans-serif" font-size="19.92" fill="#000" text-anchor="start" textLength="123.09" lengthAdjust="spacingAndGlyphs" >WT 140-days</text>
<text x="649.69" y="311.20" font-family="Liberation Sans, sans-serif" font-size="52.18" font-weight="bold" fill="#000" textLength="38.99" lengthAdjust="spacingAndGlyphs" >D</text>
<ellipse cx="1082.1" cy="496.5" rx="248.5" ry="96.4" transform="rotate(-170.56 1082.1 496.5)" fill="none" stroke="#FF0000" stroke-width="6.2" stroke-dasharray="6.4 6.2"/>
<ellipse cx="875.9" cy="746.1" rx="303.0" ry="143.8" transform="rotate(-157.85 875.9 746.1)" fill="none" stroke="#4472C4" stroke-width="6.2" stroke-dasharray="6.4 6.2"/>
<text x="984.26" y="509.60" font-family="Liberation Sans, sans-serif" font-size="29.65" font-weight="normal" fill="#FF0000" textLength="149.53" lengthAdjust="spacingAndGlyphs" >MLC/SOD1</text>
<text x="1132.52" y="498.50" font-family="Liberation Sans, sans-serif" font-size="15.70" font-weight="normal" fill="#FF0000" textLength="49.92" lengthAdjust="spacingAndGlyphs" >G93A</text>
<text x="845.01" y="869.80" font-family="Liberation Serif, serif" font-size="32.06" font-weight="normal" fill="#4472C4" textLength="80.23" lengthAdjust="spacingAndGlyphs" >SOD1</text>
<text x="924.62" y="857.90" font-family="Liberation Sans, sans-serif" font-size="19.04" font-weight="normal" fill="#4472C4" textLength="49.92" lengthAdjust="spacingAndGlyphs" >G93A</text>
<line x1="572.80" y1="1765.80" x2="572.80" y2="1774.30" stroke="#000" stroke-width="1.4" />
<text x="572.80" y="1799.00" font-family="Liberation Sans, sans-serif" font-size="21.72" fill="#000" text-anchor="middle" textLength="30.22" lengthAdjust="spacingAndGlyphs" >−4</text>
<line x1="689.20" y1="1765.80" x2="689.20" y2="1774.30" stroke="#000" stroke-width="1.4" />
<text x="689.20" y="1799.00" font-family="Liberation Sans, sans-serif" font-size="21.72" fill="#000" text-anchor="middle" textLength="30.22" lengthAdjust="spacingAndGlyphs" >−2</text>
<line x1="805.60" y1="1765.80" x2="805.60" y2="1774.30" stroke="#000" stroke-width="1.4" />
<text x="805.60" y="1799.00" font-family="Liberation Sans, sans-serif" font-size="21.72" fill="#000" text-anchor="middle" textLength="13.04" lengthAdjust="spacingAndGlyphs" >0</text>
<line x1="922.00" y1="1765.80" x2="922.00" y2="1774.30" stroke="#000" stroke-width="1.4" />
<text x="922.00" y="1799.00" font-family="Liberation Sans, sans-serif" font-size="21.72" fill="#000" text-anchor="middle" textLength="13.04" lengthAdjust="spacingAndGlyphs" >2</text>
<line x1="1038.40" y1="1765.80" x2="1038.40" y2="1774.30" stroke="#000" stroke-width="1.4" />
<text x="1038.40" y="1799.00" font-family="Liberation Sans, sans-serif" font-size="21.72" fill="#000" text-anchor="middle" textLength="13.04" lengthAdjust="spacingAndGlyphs" >4</text>
<line x1="1154.80" y1="1765.80" x2="1154.80" y2="1774.30" stroke="#000" stroke-width="1.4" />
<text x="1154.80" y="1799.00" font-family="Liberation Sans, sans-serif" font-size="21.72" fill="#000" text-anchor="middle" textLength="13.04" lengthAdjust="spacingAndGlyphs" >6</text>
<rect x="509.8" y="1276.2" width="715.6000000000001" height="489.5999999999999" fill="none" stroke="#000" stroke-width="1.4"/>
<text x="866.90" y="1828.40" font-family="Liberation Sans, sans-serif" font-size="21.72" fill="#000" text-anchor="middle" textLength="40.25" lengthAdjust="spacingAndGlyphs" >LD1</text>
<circle cx="639.5" cy="1440.1" r="7.60" fill="#FF0000"/>
<circle cx="648.5" cy="1440.1" r="7.60" fill="#FF0000"/>
<circle cx="745.5" cy="1440.1" r="7.60" fill="#FF0000"/>
<circle cx="775.6" cy="1440.1" r="7.60" fill="#FF0000"/>
<circle cx="787.7" cy="1440.1" r="7.60" fill="#FF0000"/>
<circle cx="839.8" cy="1440.1" r="7.60" fill="#008000"/>
<circle cx="874.4" cy="1440.1" r="7.60" fill="#008000"/>
<circle cx="881.0" cy="1440.1" r="7.60" fill="#008000"/>
<circle cx="916.9" cy="1440.1" r="7.60" fill="#008000"/>
<circle cx="950.4" cy="1440.1" r="7.60" fill="#008000"/>
<circle cx="631.0" cy="1521.6" r="7.60" fill="#0000FF"/>
<circle cx="650.9" cy="1521.6" r="7.60" fill="#0000FF"/>
<circle cx="659.6" cy="1521.6" r="7.60" fill="#0000FF"/>
<circle cx="699.3" cy="1521.6" r="7.60" fill="#0000FF"/>
<circle cx="705.7" cy="1521.6" r="7.60" fill="#0000FF"/>
<circle cx="713.8" cy="1521.6" r="7.60" fill="#0000FF"/>
<circle cx="752.9" cy="1521.6" r="7.60" fill="#0000FF"/>
<circle cx="963.8" cy="1521.6" r="7.60" fill="#FF0000"/>
<circle cx="988.1" cy="1521.6" r="7.60" fill="#FF0000"/>
<circle cx="1028.3" cy="1521.6" r="7.60" fill="#FF0000"/>
<circle cx="1049.7" cy="1521.6" r="7.60" fill="#FF0000"/>
<circle cx="1190.8" cy="1521.6" r="7.60" fill="#FF0000"/>
<circle cx="542.5" cy="1603.3" r="7.60" fill="#0000FF"/>
<circle cx="566.8" cy="1603.3" r="7.60" fill="#0000FF"/>
<circle cx="578.2" cy="1603.3" r="7.60" fill="#0000FF"/>
<circle cx="584.3" cy="1603.3" r="7.60" fill="#0000FF"/>
<circle cx="594.7" cy="1603.3" r="7.60" fill="#0000FF"/>
<circle cx="625.4" cy="1603.3" r="7.60" fill="#0000FF"/>
<circle cx="656.5" cy="1603.3" r="7.60" fill="#0000FF"/>
<circle cx="661.6" cy="1603.3" r="7.60" fill="#0000FF"/>
<circle cx="710.8" cy="1603.3" r="7.60" fill="#0000FF"/>
<circle cx="899.0" cy="1603.3" r="7.60" fill="#000000"/>
<circle cx="911.6" cy="1603.3" r="7.60" fill="#000000"/>
<circle cx="940.5" cy="1603.3" r="7.60" fill="#000000"/>
<circle cx="982.8" cy="1603.3" r="7.60" fill="#000000"/>
<circle cx="993.5" cy="1603.3" r="7.60" fill="#000000"/>
<circle cx="1014.1" cy="1603.3" r="7.60" fill="#000000"/>
<circle cx="1018.1" cy="1603.3" r="7.60" fill="#000000"/>
<circle cx="1035.5" cy="1603.3" r="7.60" fill="#000000"/>
<circle cx="1040.1" cy="1603.3" r="7.60" fill="#000000"/>
<circle cx="1103.5" cy="1603.3" r="7.60" fill="#000000"/>
<ellipse cx="1265.7" cy="1472.2" rx="7.5" ry="7.9" fill="#0000FF"/>
<ellipse cx="1265.7" cy="1505.0" rx="7.5" ry="7.9" fill="#000000"/>
<ellipse cx="1265.7" cy="1538.1" rx="7.5" ry="7.9" fill="#FF0000"/>
<ellipse cx="1265.7" cy="1570.8" rx="7.5" ry="7.9" fill="#008000"/>
<text x="1303.70" y="1478.10" font-family="Liberation Sans, sans-serif" font-size="22.78" fill="#000" text-anchor="start" textLength="126.37" lengthAdjust="spacingAndGlyphs" >SOD1 G93A</text>
<text x="1303.70" y="1510.90" font-family="Liberation Sans, sans-serif" font-size="22.78" fill="#000" text-anchor="start" textLength="34.39" lengthAdjust="spacingAndGlyphs" >WT</text>
<text x="1303.70" y="1544.00" font-family="Liberation Sans, sans-serif" font-size="22.78" fill="#000" text-anchor="start" textLength="179.15" lengthAdjust="spacingAndGlyphs" >MLC/SOD1 G93A</text>
<text x="1303.70" y="1576.70" font-family="Liberation Sans, sans-serif" font-size="22.78" fill="#000" text-anchor="start" textLength="34.39" lengthAdjust="spacingAndGlyphs" >WT</text>
<path d="M525.0 1221.1 H544.5 V1227.7 H532.2 V1235.9 H542.8 V1240.0 H532.2 V1251.4 H544.9 V1255.8 H525.0 Z" fill="#000" stroke="#000" stroke-width="1.2" stroke-linejoin="round"/>
<text x="-1.23" y="1445.60" font-family="Liberation Sans, sans-serif" font-size="28.63" font-weight="bold" fill="#000" textLength="137.86" lengthAdjust="spacingAndGlyphs" >MLC/SOD1</text>
<text x="137.87" y="1436.30" font-family="Liberation Sans, sans-serif" font-size="13.95" font-weight="bold" fill="#000" textLength="47.53" lengthAdjust="spacingAndGlyphs" >G93A</text>
<text x="193.97" y="1445.60" font-family="Liberation Sans, sans-serif" font-size="28.63" font-weight="bold" fill="#000" textLength="287.28" lengthAdjust="spacingAndGlyphs" >vs. strain-matched WT</text>
<text x="127.04" y="1532.20" font-family="Liberation Sans, sans-serif" font-size="28.63" font-weight="bold" fill="#000" textLength="139.69" lengthAdjust="spacingAndGlyphs" >MLC/SOD1</text>
<text x="266.96" y="1523.00" font-family="Liberation Sans, sans-serif" font-size="13.95" font-weight="bold" fill="#000" textLength="48.14" lengthAdjust="spacingAndGlyphs" >G93A</text>
<text x="321.18" y="1532.20" font-family="Liberation Sans, sans-serif" font-size="28.63" font-weight="bold" fill="#000" textLength="109.48" lengthAdjust="spacingAndGlyphs" >vs. SOD1</text>
<text x="430.94" y="1523.00" font-family="Liberation Sans, sans-serif" font-size="13.95" font-weight="bold" fill="#000" textLength="49.89" lengthAdjust="spacingAndGlyphs" >G93A</text>
<text x="72.25" y="1612.50" font-family="Liberation Sans, sans-serif" font-size="28.63" font-weight="bold" fill="#000" textLength="68.36" lengthAdjust="spacingAndGlyphs" >SOD1</text>
<text x="141.45" y="1603.30" font-family="Liberation Sans, sans-serif" font-size="13.95" font-weight="bold" fill="#000" textLength="48.86" lengthAdjust="spacingAndGlyphs" >G93A</text>
<text x="196.66" y="1612.50" font-family="Liberation Sans, sans-serif" font-size="28.63" font-weight="bold" fill="#000" textLength="288.88" lengthAdjust="spacingAndGlyphs" >vs. strain-matched WT</text>
</svg></body></html>
